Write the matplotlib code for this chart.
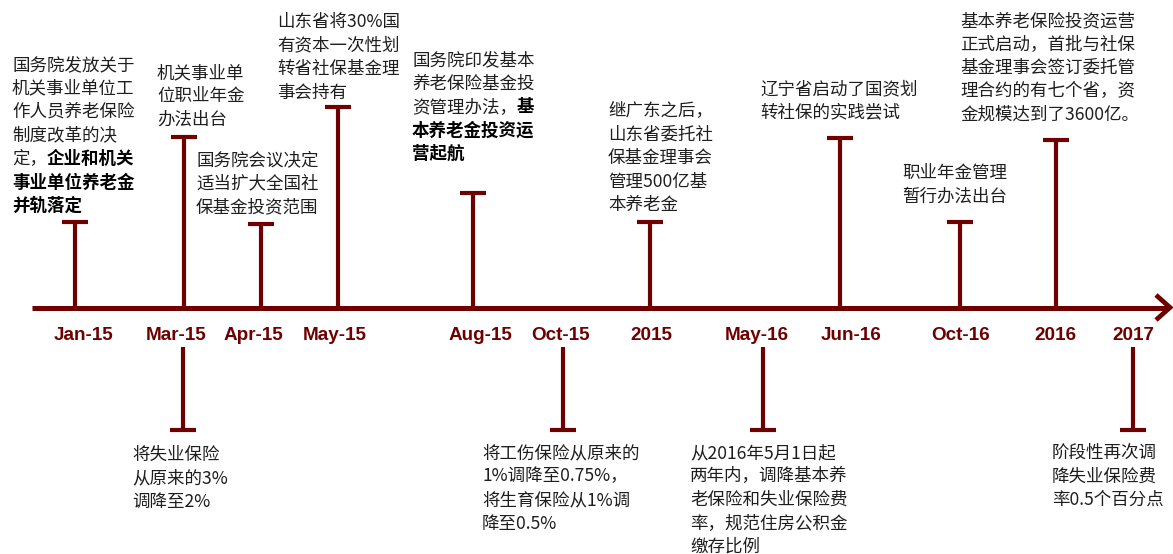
import matplotlib.pyplot as plt

plt.rcParams['font.family'] = ['Noto Sans CJK SC', 'DejaVu Sans']

RED = '#6e0000'
TXT = '#1e1e1e'

# timeline labels and positions (pixel-like units, y grows downward)
labels = ['Jan-15', 'Mar-15', 'Apr-15', 'May-15', 'Aug-15', 'Oct-15',
          '2015', 'May-16', 'Jun-16', 'Oct-16', '2016', '2017']
label_x = [84, 176, 253, 335, 480, 561, 651, 757, 851, 961, 1055, 1133]

# stems above the axis
up_x = [75, 184, 261, 338, 473, 650, 840, 960, 1056]
up_top = [222, 137, 224, 107, 193, 222, 138, 222, 140]

# stems below the labels
down_x = [183, 563, 763, 1133]
down_bottom = [430, 430, 430, 430]

# notes: '*' marks where bold text begins in a line
up_notes = [
    ['国务院发放关于', '机关事业单位工', '作人员养老保险', '制度改革的决',
     '定，*企业和机关', '*事业单位养老金', '*并轨落定'],
    ['机关事业单', '位职业年金', '办法出台'],
    ['国务院会议决定', '适当扩大全国社', '保基金投资范围'],
    ['山东省将30%国', '有资本一次性划', '转省社保基金理', '事会持有'],
    ['国务院印发基本', '养老保险基金投', '资管理办法，*基', '*本养老金投资运', '*营起航'],
    ['继广东之后，', '山东省委托社', '保基金理事会', '管理500亿基', '本养老金'],
    ['辽宁省启动了国资划', '转社保的实践尝试'],
    ['职业年金管理', '暂行办法出台'],
    ['基本养老保险投资运营', '正式启动，首批与社保', '基金理事会签订委托管',
     '理合约的有七个省，资', '金规模达到了3600亿。'],
]
up_note_x = [12, 157, 196, 277, 412, 608, 760, 902, 960]
up_note_y = [65, 73, 160, 22, 60, 111, 89, 173, 21]

down_notes = [
    ['将失业保险', '从原来的3%', '调降至2%'],
    ['将工伤保险从原来的', '1%调降至0.75%，', '将生育保险从1%调', '降至0.5%'],
    ['从2016年5月1日起', '两年内，调降基本养', '老保险和失业保险费',
     '率，规范住房公积金', '缴存比例'],
    ['阶段性再次调', '降失业保险费', '率0.5个百分点'],
]
down_note_x = [132, 482, 690, 1052]
down_note_y = [455, 453, 453, 453]

axis_y = 307.5
fs = 12.6
line_gap = 23.5

fig = plt.figure(figsize=(11.73, 5.54), dpi=100)
ax = fig.add_axes([0, 0, 1, 1])
ax.set_xlim(0, 1173)
ax.set_ylim(554, 0)
ax.axis('off')

# main axis with arrow
ax.plot([32, 1169], [axis_y, axis_y], color=RED, lw=3.6, solid_capstyle='butt')
ax.plot([1156, 1170, 1156], [295, axis_y, 320], color=RED, lw=3.4,
        solid_joinstyle='miter', solid_capstyle='butt')

# up stems with caps
for x, top in zip(up_x, up_top):
    ax.plot([x, x], [axis_y, top], color=RED, lw=3, solid_capstyle='butt')
    ax.plot([x - 13, x + 13], [top, top], color=RED, lw=3, solid_capstyle='butt')

# down stems with caps
for x, bot in zip(down_x, down_bottom):
    ax.plot([x, x], [347, bot], color=RED, lw=3, solid_capstyle='butt')
    ax.plot([x - 13, x + 13], [bot, bot], color=RED, lw=3, solid_capstyle='butt')

for x, lab in zip(label_x, labels):
    ax.text(x, 335.5, lab, ha='center', va='center', color=RED, fontsize=13.6,
            fontweight='bold', family=['Liberation Sans', 'DejaVu Sans'])


def draw_note(lines, x0, y0):
    for i, line in enumerate(lines):
        y = y0 + i * line_gap
        normal, _, bold = line.partition('*')
        if normal:
            ax.text(x0, y, normal, ha='left', va='center', fontsize=fs, color=TXT)
        if bold:
            ax.annotate(bold, xy=(x0, y), xytext=(len(normal) * fs, 0),
                        textcoords='offset points', ha='left', va='center',
                        fontsize=fs, fontweight='bold', color='black')


for lines, x0, y0 in zip(up_notes, up_note_x, up_note_y):
    draw_note(lines, x0, y0)
for lines, x0, y0 in zip(down_notes, down_note_x, down_note_y):
    draw_note(lines, x0, y0)

plt.savefig('out.png', dpi=100)
